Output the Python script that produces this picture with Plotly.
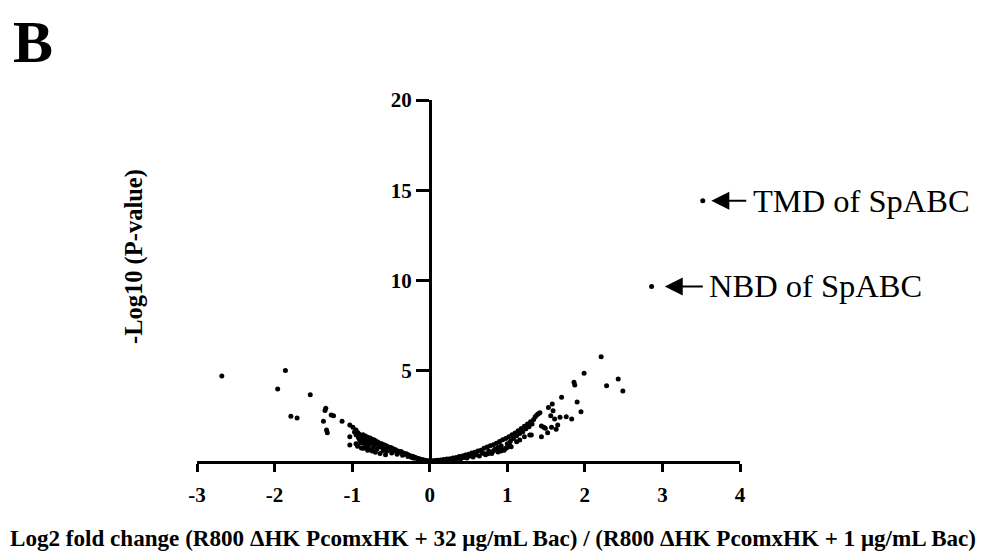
import plotly.graph_objects as go

# ---- data ----
left_x = [-2.68, -1.86, -1.96, -1.54, -1.79, -1.71, -1.34, -1.35, -1.27, -1.24, -1.37, -1.33, -1.32,
          -1.13, -1.03, -0.99, -0.95, -1.03, -1.03, -0.90, -0.86, -0.80,
          -0.97, -0.95, -0.93, -0.92, -0.91, -0.90, -0.90, -0.89, -0.88, -0.87, -0.86, -0.85, -0.84,
          -0.83, -0.82, -0.81, -0.80, -0.79, -0.78, -0.77, -0.76, -0.75, -0.74, -0.73, -0.72, -0.71,
          -0.70, -0.69, -0.68, -0.67, -0.66, -0.65, -0.63, -0.62, -0.60, -0.59, -0.58, -0.56, -0.55,
          -0.53, -0.52, -0.50, -0.49, -0.47, -0.46, -0.44, -0.42, -0.41, -0.39, -0.37, -0.35, -0.34,
          -0.32, -0.30, -0.28, -0.27, -0.25, -0.23, -0.22, -0.20, -0.19, -0.17, -0.15, -0.14, -0.12,
          -0.10, -0.08, -0.06, -0.04, -0.02,
          -0.93, -0.88, -0.95, -0.82, -0.78, -0.74, -0.70, -0.64, -0.57]
left_y = [4.71, 5.02, 3.99, 3.67, 2.48, 2.38, 2.92, 2.80, 2.55, 2.51, 2.20, 1.72, 1.57,
          2.20, 1.99, 1.87, 1.72, 1.35, 0.89, 1.16, 0.70, 0.60,
          1.60, 1.45, 1.58, 1.30, 1.50, 1.15, 1.42, 1.00, 1.35, 1.22, 1.46, 1.10, 0.95,
          1.38, 1.25, 1.05, 1.32, 0.85, 1.18, 1.28, 0.98, 1.22, 1.10, 0.75, 1.18, 0.92,
          1.12, 1.02, 0.66, 1.05, 0.85, 0.98, 0.78, 0.95, 0.58, 0.90, 0.72, 0.85, 0.55,
          0.78, 0.65, 0.75, 0.45, 0.68, 0.55, 0.62, 0.38, 0.55, 0.48, 0.52, 0.32, 0.45,
          0.38, 0.40, 0.25, 0.33, 0.28, 0.20, 0.26, 0.15, 0.21, 0.17, 0.10, 0.14, 0.09,
          0.08, 0.05, 0.04, 0.02, 0.01,
          0.82, 0.72, 0.95, 0.70, 0.62, 0.55, 0.48, 0.42, 0.35]

right_x = [2.21, 1.99, 1.86, 1.87, 2.28, 2.43, 2.49, 1.70, 1.90, 1.58, 1.53, 1.95, 1.59, 1.56,
           1.61, 1.68, 1.76, 1.83, 1.44, 1.47, 1.57, 1.63, 1.52, 1.44, 1.65, 1.31, 1.22, 1.16,
           1.12, 1.03, 1.05, 1.29, 1.49,
           0.03, 0.06, 0.08, 0.10, 0.12, 0.14, 0.16, 0.18, 0.20, 0.22, 0.24, 0.26, 0.28, 0.30,
           0.32, 0.34, 0.36, 0.38, 0.40, 0.42, 0.44, 0.46, 0.48, 0.50, 0.52, 0.54, 0.56, 0.58,
           0.60, 0.62, 0.64, 0.66, 0.68, 0.70, 0.72, 0.74, 0.76, 0.78, 0.80, 0.82, 0.84, 0.86,
           0.88, 0.90, 0.92, 0.94, 0.96, 0.98, 1.00, 1.02, 1.04, 1.06, 1.08, 1.10, 1.12, 1.14,
           1.16, 1.18, 1.20, 1.22, 1.24, 1.26, 1.28, 1.30, 1.32, 1.34, 1.36, 1.38, 1.40, 1.42,
           0.70, 0.75, 0.82, 0.86, 0.92, 0.98, 1.00, 0.92, 0.88]
right_y = [5.78, 4.86, 4.36, 4.21, 4.17, 4.54, 3.88, 3.53, 3.27, 3.16, 2.97, 2.73, 2.79, 2.51,
           2.33, 2.42, 2.45, 2.33, 1.94, 1.87, 1.87, 1.76, 1.57, 1.35, 1.99, 1.44, 1.35, 1.16,
           1.07, 0.89, 0.79, 1.44, 1.81,
           0.01, 0.02, 0.03, 0.04, 0.02, 0.06, 0.04, 0.08, 0.06, 0.11, 0.05, 0.13, 0.09, 0.17,
           0.08, 0.20, 0.14, 0.25, 0.12, 0.28, 0.20, 0.33, 0.16, 0.38, 0.28, 0.44, 0.22, 0.48,
           0.35, 0.55, 0.28, 0.60, 0.45, 0.70, 0.35, 0.78, 0.55, 0.84, 0.42, 0.90, 0.65, 0.98,
           0.50, 1.08, 0.78, 1.18, 0.60, 1.25, 0.95, 1.35, 1.10, 1.45, 1.25, 1.55, 1.40, 1.68,
           1.52, 1.80, 1.62, 1.92, 1.78, 2.05, 1.90, 2.18, 2.05, 2.30, 2.45, 2.55, 2.62, 2.68,
           0.42, 0.40, 0.55, 0.62, 0.55, 0.70, 0.75, 0.85, 0.75]

label_names = ["TMD of SpABC", "NBD of SpABC"]
label_x = [3.52, 2.86]
label_y = [14.42, 9.67]

x_ticks = [-3, -2, -1, 0, 1, 2, 3, 4]
y_ticks = [5, 10, 15, 20]

FONT = "Liberation Serif"

# plot area in the window: x 197..740, y 100..461 (page has an 8px body offset)
L, T, W, H = 189, 92, 543, 361

fig = go.Figure()
fig.add_trace(go.Scatter(x=left_x + right_x + label_x, y=left_y + right_y + label_y,
                         mode="markers", marker=dict(color="black", size=5),
                         showlegend=False, hoverinfo="x+y"))

fig.update_layout(
    width=984, height=556,
    margin=dict(l=L, r=984 - L - W, t=T, b=556 - T - H),
    paper_bgcolor="white", plot_bgcolor="white",
    xaxis=dict(range=[-3, 4], tickvals=x_ticks, ticktext=[f"<b>{v}</b>" for v in x_ticks],
               showgrid=False, zeroline=False, showline=True, linecolor="black", linewidth=2.5,
               ticks="outside", ticklen=8, tickwidth=2.5, tickcolor="black",
               ticklabelstandoff=5,
               tickfont=dict(family=FONT, size=21, color="black"), domain=[0, 1]),
    yaxis=dict(range=[0, 20], tickvals=y_ticks, ticktext=[f"<b>{v}</b>" for v in y_ticks],
               showgrid=False, zeroline=False, showline=True, linecolor="black", linewidth=2.5,
               ticks="outside", ticklen=13, tickwidth=2.5, tickcolor="black",
               anchor="free", position=3 / 7,
               tickfont=dict(family=FONT, size=21, color="black")),
    font=dict(family=FONT, color="black"),
)


def px(xs):
    return (xs - 197) / W


def py(ys):
    return (461 - ys) / H


# Panel letter
fig.add_annotation(text="<b>B</b>", xref="paper", yref="paper", x=px(10.5), y=py(7),
                   xanchor="left", yanchor="top", showarrow=False,
                   font=dict(family=FONT, size=60, color="black"))

# Axis titles
fig.add_annotation(text="<b>-Log10 (P-value)</b>", xref="paper", yref="paper",
                   x=px(134), y=py(257), textangle=-90, xanchor="center", yanchor="middle",
                   showarrow=False, font=dict(family=FONT, size=24.5, color="black"))
fig.add_annotation(text="<b>Log2 fold change (R800 \u0394HK PcomxHK + 32 \u03bcg/mL Bac) / (R800 \u0394HK PcomxHK + 1 \u03bcg/mL Bac)</b>",
                   xref="paper", yref="paper", x=px(978), y=py(538),
                   xanchor="right", yanchor="middle", showarrow=False,
                   font=dict(family=FONT, size=23.1, color="black"))

# Arrows + labels
arrow_tail_x = [4.10, 3.54]
arrow_head_x = [3.63, 3.03]
text_left_px = [751, 707]
for name, hx, tx, yy, tl in zip(label_names, arrow_head_x, arrow_tail_x, label_y, text_left_px):
    fig.add_annotation(x=hx, y=yy, ax=tx, ay=yy, xref="x", yref="y", axref="x", ayref="y",
                       text="", showarrow=True, arrowhead=2, arrowsize=1.8, arrowwidth=2,
                       arrowcolor="black")
    fig.add_annotation(x=px(tl), y=yy, xref="paper", yref="y", text=name, showarrow=False,
                       xanchor="left", yanchor="middle",
                       font=dict(family=FONT, size=32.5, color="black"))

fig.write_html("out.html")
